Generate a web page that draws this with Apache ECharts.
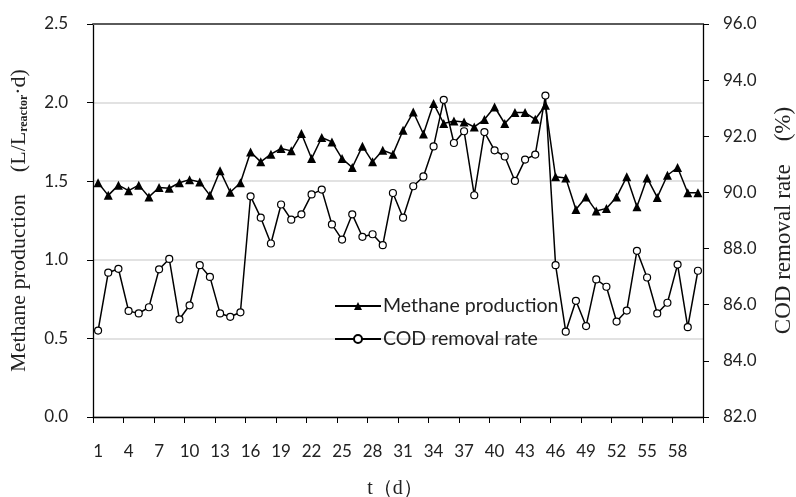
<!DOCTYPE html>
<html>
<head>
<meta charset="utf-8">
<script src="https://cdn.jsdelivr.net/npm/echarts@6/dist/echarts.min.js"></script>
<style>
html,body{margin:0;padding:0;background:#fff;}
#chart{width:796px;height:497px;}
</style>
</head>
<body>
<div id="chart"></div>
<script>
var days = ['1','2','3','4','5','6','7','8','9','10','11','12','13','14','15','16','17','18','19','20',
  '21','22','23','24','25','26','27','28','29','30','31','32','33','34','35','36','37','38','39','40',
  '41','42','43','44','45','46','47','48','49','50','51','52','53','54','55','56','57','58','59','60'];

var methaneProduction = [1.49,1.41,1.475,1.44,1.475,1.40,1.46,1.455,1.49,1.51,
  1.495,1.41,1.566,1.43,1.49,1.686,1.623,1.672,1.708,1.693,
  1.803,1.644,1.778,1.75,1.644,1.587,1.723,1.623,1.697,1.672,
  1.824,1.94,1.80,1.994,1.867,1.883,1.877,1.845,1.892,1.972,
  1.867,1.937,1.937,1.894,1.983,1.528,1.52,1.32,1.40,1.31,
  1.327,1.40,1.528,1.337,1.521,1.397,1.538,1.587,1.426,1.426];

var codRemovalRate = [85.08,87.14,87.28,85.78,85.69,85.91,87.26,87.63,85.48,85.98,
  87.41,86.99,85.69,85.57,85.73,89.86,89.10,88.18,89.57,89.03,
  89.22,89.93,90.10,88.86,88.32,89.22,88.42,88.51,88.12,89.98,
  89.10,90.22,90.57,91.64,93.30,91.76,92.18,89.90,92.15,91.50,
  91.28,90.41,91.17,91.35,93.45,87.41,85.04,86.14,85.24,86.90,
  86.64,85.40,85.79,87.92,86.97,85.69,86.07,87.43,85.20,87.21];

var seriesNames = ['Methane production', 'COD removal rate'];

var chart = echarts.init(document.getElementById('chart'), null, {renderer: 'canvas'});
var tickFont = {fontFamily: 'Lato', fontSize: 17, color: '#222'};
var axisLineStyle = {color: '#000', width: 1.3};

chart.setOption({
  animation: false,
  backgroundColor: '#fff',
  grid: {left: 93, right: 93, top: 24, bottom: 80, containLabel: false, outerBoundsMode: 'none'},
  legend: {
    orient: 'vertical',
    left: 329,
    top: 291,
    itemWidth: 46,
    itemHeight: 10,
    itemGap: 13,
    textStyle: {fontFamily: 'Lato', fontSize: 19.5, color: '#222', padding: [0,0,0,-3]},
    data: seriesNames
  },
  xAxis: [{
    type: 'category',
    data: days,
    boundaryGap: true,
    name: 't\uFF08d\uFF09',
    nameLocation: 'middle',
    nameGap: 62,
    nameTextStyle: {fontFamily: 'Liberation Serif', fontSize: 20, color: '#222', padding: [0,6,0,0]},
    axisLine: {lineStyle: axisLineStyle},
    axisTick: {show: true, interval: 2, length: 6, lineStyle: {color: '#000'}},
    axisLabel: Object.assign({interval: 2, margin: 26}, tickFont),
    splitLine: {show: false}
  }, {
    type: 'category',
    data: days,
    position: 'top',
    axisLine: {lineStyle: {color: '#5a5a5a', width: 2}},
    axisTick: {show: false},
    axisLabel: {show: false},
    splitLine: {show: false}
  }],
  yAxis: [{
    type: 'value',
    min: 0,
    max: 2.5,
    interval: 0.5,
    name: '{a|Methane production\u3000(L/L}{s|reactor}{a|\u00B7d)}',
    nameLocation: 'middle',
    nameGap: 63,
    nameRotate: 90,
    nameTextStyle: {
      rich: {
        a: {fontFamily: 'Liberation Serif', fontSize: 22, color: '#222'},
        s: {fontFamily: 'Liberation Serif', fontSize: 12, fontWeight: 'bold', color: '#222', verticalAlign: 'bottom', padding: [8,0,0,0]}
      }
    },
    axisLine: {show: true, lineStyle: axisLineStyle},
    axisTick: {show: true, length: 6, lineStyle: {color: '#000'}},
    axisLabel: Object.assign({margin: 25, formatter: function (v) { return v.toFixed(1); }}, tickFont),
    splitLine: {show: true, lineStyle: {color: '#d9d9d9', width: 1.5}}
  }, {
    type: 'value',
    min: 82,
    max: 96,
    interval: 2,
    position: 'right',
    name: 'COD removal rate\u3000(%)',
    nameLocation: 'middle',
    nameGap: 69,
    nameRotate: 90,
    nameTextStyle: {fontFamily: 'Liberation Serif', fontSize: 23, color: '#222'},
    axisLine: {show: true, lineStyle: axisLineStyle},
    axisTick: {show: true, length: 6, lineStyle: {color: '#000'}},
    axisLabel: Object.assign({margin: 20, formatter: function (v) { return v.toFixed(1); }}, tickFont),
    splitLine: {show: false}
  }],
  series: [{
    name: seriesNames[0],
    type: 'line',
    xAxisIndex: 0,
    yAxisIndex: 0,
    data: methaneProduction,
    symbol: 'triangle',
    symbolSize: 9,
    showAllSymbol: true,
    lineStyle: {color: '#000', width: 1.5},
    itemStyle: {color: '#000', borderColor: '#000', borderWidth: 0}
  }, {
    name: seriesNames[1],
    type: 'line',
    xAxisIndex: 0,
    yAxisIndex: 1,
    data: codRemovalRate,
    symbol: 'circle',
    symbolSize: 7,
    showAllSymbol: true,
    lineStyle: {color: '#000', width: 1.5},
    itemStyle: {color: '#fff', borderColor: '#000', borderWidth: 1.2}
  }]
});
</script>
</body>
</html>
